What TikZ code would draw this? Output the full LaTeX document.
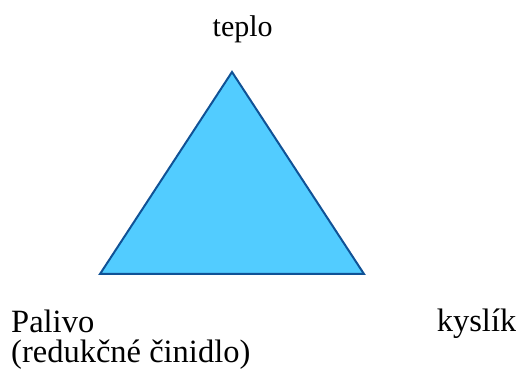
\documentclass[tikz,border=0pt]{standalone}
\usepackage{fontspec}
\setmainfont{Liberation Serif}
\definecolor{trifill}{RGB}{82,204,255}
\definecolor{triline}{RGB}{16,82,150}
\tikzset{
  lbl/.style={font=\fontsize{32.5}{30}\selectfont, inner sep=0pt, anchor=base},
  toplbl/.style={font=\fontsize{30}{32}\selectfont, inner sep=0pt, anchor=base},
  tri/.style={fill=trifill, draw=triline, line width=2pt, line join=miter}
}
\begin{document}
\begin{tikzpicture}[x=1pt,y=1pt]
\useasboundingbox (0,0) rectangle (516,371);
\coordinate (top) at (232,299);
\coordinate (bl) at (100,97);
\coordinate (br) at (364,97);
\draw[tri] (top) -- (bl) -- (br) -- cycle;
\node[toplbl] (teplo) at (242.7,334.5) {teplo};
\node[lbl, anchor=base west] (palivo) at (11,38) {Palivo};
\node[lbl, anchor=base west] (red) at (11,8) {(redukčné činidlo)};
\node[lbl, anchor=base east] (kyslik) at (516.5,39.3) {kyslík};
\end{tikzpicture}
\end{document}
